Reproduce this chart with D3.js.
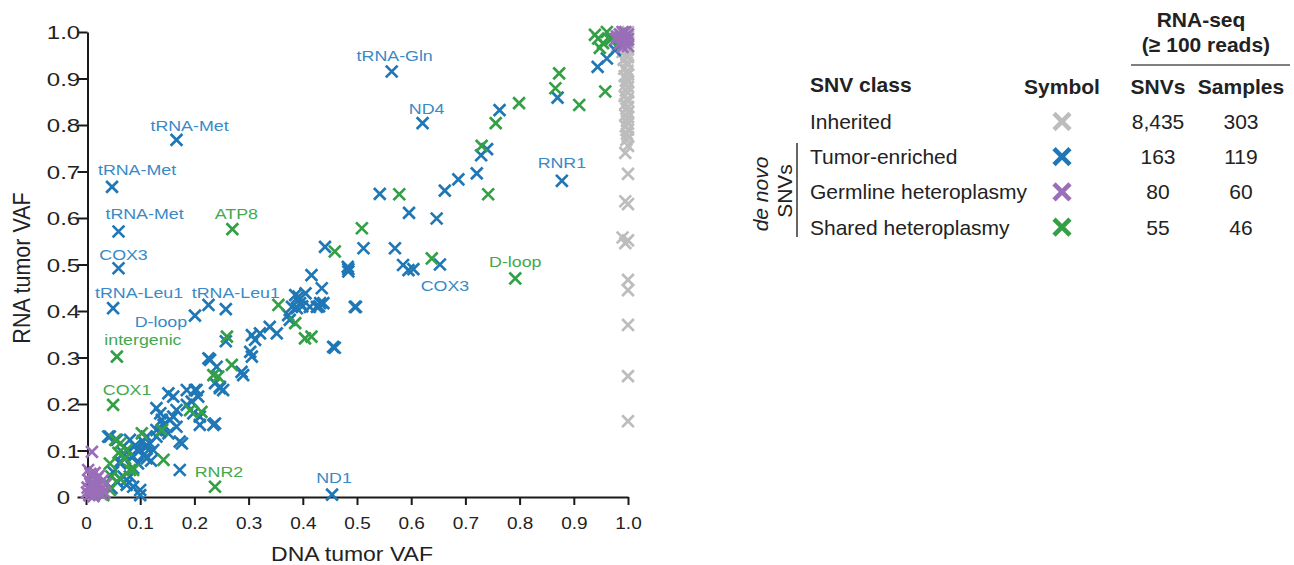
<!DOCTYPE html>
<html>
<head>
<meta charset="utf-8">
<script src="https://cdn.jsdelivr.net/npm/d3@7"></script>
<style>
  body { margin: 0; background: #fff; }
  svg { font-family: "Liberation Sans", Arial, sans-serif; }
</style>
</head>
<body>
<svg id="chart" width="1294" height="565"></svg>
<script>
// ---------------- data ----------------
const xTicks = [0, 0.1, 0.2, 0.3, 0.4, 0.5, 0.6, 0.7, 0.8, 0.9, 1.0];
const yTicks = [0, 0.1, 0.2, 0.3, 0.4, 0.5, 0.6, 0.7, 0.8, 0.9, 1.0];

const classNames = ["Inherited", "Tumor-enriched", "Germline heteroplasmy", "Shared heteroplasmy"];
const snvCounts = ["8,435", "163", "80", "55"];
const sampleCounts = ["303", "119", "60", "46"];

// [DNA tumor VAF, RNA tumor VAF]
const inherited = [
  [1.0, 1.0], [0.995, 0.997], [0.99, 0.995], [0.985, 0.99], [0.975, 0.995], [0.97, 0.985],
  [1.0, 0.99], [0.995, 0.985], [1.0, 0.978], [0.99, 0.975], [0.98, 0.97], [0.995, 0.968],
  [1.0, 0.962], [0.99, 0.957], [0.997, 0.951], [1.0, 0.946], [0.992, 0.94], [0.998, 0.934],
  [1.0, 0.929], [0.993, 0.921], [0.999, 0.917], [1.0, 0.909], [0.994, 0.905], [0.998, 0.898],
  [1.0, 0.893], [0.995, 0.886], [1.0, 0.882], [0.996, 0.874], [1.0, 0.87], [0.994, 0.862],
  [0.999, 0.857], [1.0, 0.851], [0.995, 0.845], [1.0, 0.839], [0.997, 0.835], [1.0, 0.827],
  [0.995, 0.821], [1.0, 0.817], [0.998, 0.809], [1.0, 0.803], [0.996, 0.797], [1.0, 0.79],
  [0.998, 0.781], [1.0, 0.774], [0.997, 0.768],
  [1.0, 0.755], [0.995, 0.74], [1.0, 0.695], [0.995, 0.636], [1.0, 0.63], [0.99, 0.558],
  [1.0, 0.552], [0.995, 0.546], [1.0, 0.467], [1.0, 0.445], [1.0, 0.37], [1.0, 0.26], [1.0, 0.163]
];

const tumorEnriched = [
  [0.763, 0.832], [0.729, 0.735], [0.74, 0.748], [0.721, 0.696], [0.687, 0.683], [0.662, 0.659],
  [0.542, 0.652], [0.596, 0.611], [0.647, 0.599], [0.512, 0.535], [0.57, 0.535], [0.441, 0.538],
  [0.483, 0.495], [0.484, 0.485], [0.585, 0.499], [0.595, 0.488], [0.87, 0.859], [0.944, 0.925],
  [0.961, 0.943], [0.985, 0.976], [0.976, 0.961], [0.994, 0.983], [0.97, 0.987],
  [0.416, 0.477], [0.435, 0.449], [0.496, 0.409], [0.456, 0.323], [0.386, 0.434], [0.395, 0.417],
  [0.38, 0.409], [0.413, 0.409], [0.438, 0.417], [0.426, 0.409], [0.376, 0.381], [0.339, 0.366],
  [0.352, 0.352], [0.321, 0.352], [0.306, 0.348], [0.312, 0.338], [0.303, 0.312], [0.306, 0.302],
  [0.287, 0.269], [0.29, 0.262], [0.226, 0.298], [0.241, 0.28], [0.247, 0.237], [0.253, 0.23],
  [0.226, 0.413], [0.186, 0.23], [0.204, 0.23], [0.161, 0.216], [0.373, 0.391], [0.392, 0.431],
  [0.389, 0.406], [0.432, 0.417], [0.152, 0.223], [0.195, 0.205], [0.21, 0.173], [0.238, 0.158],
  [0.177, 0.115], [0.173, 0.058], [0.161, 0.173], [0.14, 0.166], [0.137, 0.18], [0.13, 0.144],
  [0.112, 0.13], [0.1, 0.101], [0.087, 0.087], [0.1, 0.004], [0.087, 0.022], [0.075, 0.037],
  [0.063, 0.072], [0.044, 0.13], [0.081, 0.123], [0.112, 0.108], [0.13, 0.191], [0.167, 0.187],
  [0.186, 0.198], [0.198, 0.18], [0.167, 0.151], [0.155, 0.166], [0.173, 0.119], [0.13, 0.13],
  [0.124, 0.101], [0.118, 0.115], [0.106, 0.09], [0.096, 0.072], [0.087, 0.062], [0.081, 0.044],
  [0.075, 0.026], [0.1, 0.015], [0.041, 0.13], [0.057, 0.123], [0.069, 0.094], [0.063, 0.076],
  [0.05, 0.054], [0.057, 0.033], [0.047, 0.019], [0.069, 0.044], [0.084, 0.087], [0.094, 0.101],
  [0.109, 0.108], [0.112, 0.083], [0.143, 0.155], [0.137, 0.14], [0.152, 0.137], [0.229, 0.295],
  [0.238, 0.245], [0.258, 0.335], [0.201, 0.23], [0.207, 0.216], [0.21, 0.155], [0.235, 0.155],
  [0.247, 0.234], [0.405, 0.438], [0.399, 0.41], [0.43, 0.41], [0.484, 0.49], [0.498, 0.409],
  [0.459, 0.321], [0.604, 0.49], [0.09, 0.11], [0.078, 0.1], [0.12, 0.078], [0.105, 0.12]
];

const germline = [
  [0.011, 0.097],
  [0.004, 0.058], [0.01, 0.045], [0.016, 0.052], [0.006, 0.035], [0.013, 0.03], [0.02, 0.04],
  [0.025, 0.028], [0.003, 0.02], [0.009, 0.015], [0.015, 0.018], [0.022, 0.012], [0.03, 0.02],
  [0.028, 0.006], [0.006, 0.004], [0.014, 0.002], [0.019, 0.025], [0.034, 0.01], [0.002, 0.01],
  [0.024, 0.046], [0.011, 0.024], [0.017, 0.008], [0.031, 0.036], [0.008, 0.05], [0.036, 0.028],
  [0.99, 1.0], [0.995, 0.99], [0.985, 0.995], [1.0, 0.985], [0.99, 0.98], [0.98, 0.99],
  [0.995, 1.0], [1.0, 0.995], [0.985, 0.975], [0.995, 0.975], [0.99, 0.968], [1.0, 0.97],
  [0.978, 0.985], [0.988, 0.988], [0.998, 0.982]
];

const shared = [
  [0.873, 0.911], [0.866, 0.879], [0.799, 0.847], [0.91, 0.843], [0.958, 0.872], [0.756, 0.804],
  [0.73, 0.755], [0.742, 0.651], [0.578, 0.651], [0.509, 0.578], [0.459, 0.528], [0.638, 0.513],
  [0.945, 0.986], [0.961, 1.0], [0.954, 0.976], [0.939, 0.994], [0.967, 0.983], [0.948, 0.966],
  [0.355, 0.413], [0.386, 0.374], [0.404, 0.341], [0.416, 0.345], [0.26, 0.345], [0.269, 0.284],
  [0.235, 0.262], [0.244, 0.259], [0.192, 0.187], [0.213, 0.183], [0.14, 0.144], [0.143, 0.08],
  [0.103, 0.137], [0.075, 0.101], [0.054, 0.123], [0.044, 0.072], [0.038, 0.029], [0.032, 0.004],
  [0.087, 0.058], [0.063, 0.115], [0.081, 0.058], [0.047, 0.044], [0.044, 0.015], [0.063, 0.04],
  [0.06, 0.095], [0.072, 0.083]
];

// labelled SNVs: gene, class index, DNA VAF, RNA VAF
const annotations = [
  ["tRNA-Gln", 1, 0.564, 0.915], ["ND4", 1, 0.621, 0.804], ["tRNA-Met", 1, 0.167, 0.768],
  ["tRNA-Met", 1, 0.048, 0.667], ["tRNA-Met", 1, 0.06, 0.571], ["COX3", 1, 0.06, 0.492],
  ["tRNA-Leu1", 1, 0.05, 0.406], ["tRNA-Leu1", 1, 0.258, 0.404], ["D-loop", 1, 0.201, 0.39],
  ["RNR1", 1, 0.878, 0.68], ["COX3", 1, 0.653, 0.5], ["ND1", 1, 0.454, 0.005],
  ["ATP8", 3, 0.27, 0.576], ["intergenic", 3, 0.057, 0.302], ["COX1", 3, 0.05, 0.198],
  ["RNR2", 3, 0.238, 0.022], ["D-loop", 3, 0.792, 0.47]
];

// ---------------- setup ----------------
const svg = d3.select("#chart");
const colors = ["#bdbdbd", "#1f77b6", "#9a6eb8", "#34a046"];
const labelColors = ["#aaa", "#3a8ac6", "#9a6eb8", "#42a94d"];
const sx = 1.15; // the plot panel is a bit wider than tall in the figure

const x = d3.scaleLinear().domain([0, 1]).range([86, 628]);
const y = d3.scaleLinear().domain([0, 1]).range([497, 32]);

const timesType = d3.symbolTimes || d3.symbolX;
const mark = d3.symbol().type(timesType).size(92);
const bigMark = d3.symbol().type(timesType).size(169);

const fmt = d => d === 0 ? "0" : d3.format(".1f")(d);

//======================= AXES =========================
const gx = svg.append("g")
  .attr("transform", "translate(0," + y(0) + ")")
  .call(d3.axisBottom(x).tickValues(xTicks).tickSize(8).tickSizeOuter(0).tickFormat(fmt));
gx.selectAll(".tick text")
  .attr("y", null).attr("dy", null)
  .attr("font-size", 16.5)
  .attr("transform", "translate(0,31.5) scale(" + sx + ",1)");

const gy = svg.append("g")
  .attr("transform", "translate(87.5,0)")
  .call(d3.axisLeft(y).tickValues(yTicks).tickSize(10).tickSizeOuter(0).tickFormat(fmt));
gy.selectAll(".tick text")
  .attr("x", null).attr("dy", "0.36em")
  .attr("text-anchor", "middle")
  .attr("font-size", 18.5)
  .attr("transform", "translate(-24,0) scale(1.3,1)");

svg.selectAll(".domain, .tick line").attr("stroke", "#1a1a1a").attr("stroke-width", 2);
svg.selectAll(".tick text").attr("fill", "#222").attr("font-family", null);

svg.append("text")
  .attr("transform", "translate(352,561) scale(" + sx + ",1)")
  .attr("text-anchor", "middle").attr("font-size", 20).attr("fill", "#222")
  .text("DNA tumor VAF");

svg.append("text")
  .attr("transform", "translate(30,268) scale(" + sx + ",1) rotate(-90)")
  .attr("text-anchor", "middle").attr("font-size", 21.5).attr("fill", "#222")
  .text("RNA tumor VAF");

//======================= POINTS =========================
const series = [inherited, tumorEnriched, germline, shared].map((pts, i) => ({
  cls: i,
  values: pts.concat(annotations.filter(a => a[1] === i).map(a => [a[2], a[3]]))
}));
const drawOrder = [0, 1, 3, 2]; // gray first, purple on top

drawOrder.forEach(function(ci) {
  svg.append("g").selectAll("path")
    .data(series[ci].values)
    .enter().append("path")
      .attr("d", mark)
      .attr("transform", d => "translate(" + x(d[0]) + "," + y(d[1]) + ")")
      .attr("fill", "none")
      .attr("stroke", colors[ci])
      .attr("stroke-width", 2.7);
});

// label offsets from their point, in pixels (dx, dy of text baseline centre)
const labelOffsets = [
  [3, -11], [4, -9], [13, -9], [25, -12], [26, -12], [5, -8], [26, -10], [10, -11], [-34, 11],
  [0, -13], [5, 26], [2, -12], [4, -10], [26, -12], [14, -10], [4, -10], [0, -11]
];

svg.append("g").selectAll("text")
  .data(annotations)
  .enter().append("text")
    .attr("transform", (d, i) => "translate(" + (x(d[2]) + labelOffsets[i][0]) + "," +
      (y(d[3]) + labelOffsets[i][1]) + ") scale(" + sx + ",1)")
    .attr("text-anchor", "middle")
    .attr("font-size", 15.5)
    .attr("fill", d => labelColors[d[1]])
    .text(d => d[0]);

//======================= LEGEND TABLE =========================
const tbl = svg.append("g").attr("font-size", 21).attr("fill", "#222");
const colClass = 810, colSym = 1062, colSnv = 1158, colSmp = 1241;
const rowY = i => 121.5 + i * 35.2;

tbl.append("text").attr("x", 1201).attr("y", 27).attr("text-anchor", "middle")
  .attr("font-weight", "bold").text("RNA-seq");
tbl.append("text").attr("x", 1206).attr("y", 52).attr("text-anchor", "middle")
  .attr("font-weight", "bold").text("(\u2265 100 reads)");
tbl.append("line").attr("x1", 1131).attr("x2", 1290).attr("y1", 65).attr("y2", 65)
  .attr("stroke", "#555").attr("stroke-width", 1.5);

tbl.append("text").attr("x", colClass).attr("y", 92).attr("font-weight", "bold").text("SNV class");
[["Symbol", colSym], ["SNVs", colSnv], ["Samples", colSmp]].forEach(function(h) {
  tbl.append("text").attr("x", h[1]).attr("y", 94).attr("text-anchor", "middle")
    .attr("font-weight", "bold").text(h[0]);
});

const rows = tbl.selectAll(".row")
  .data(classNames)
  .enter().append("g")
    .attr("class", "row")
    .attr("transform", (d, i) => "translate(0," + rowY(i) + ")");

rows.append("text").attr("x", colClass).attr("dy", "0.36em").text(d => d);
rows.append("path")
  .attr("d", bigMark)
  .attr("transform", "translate(" + colSym + ",0)")
  .attr("fill", "none")
  .attr("stroke", (d, i) => colors[i])
  .attr("stroke-width", 4.6);
rows.append("text").attr("x", colSnv).attr("dy", "0.36em").attr("text-anchor", "middle")
  .text((d, i) => snvCounts[i]);
rows.append("text").attr("x", colSmp).attr("dy", "0.36em").attr("text-anchor", "middle")
  .text((d, i) => sampleCounts[i]);

tbl.append("line").attr("x1", 797).attr("x2", 797).attr("y1", 143).attr("y2", 237)
  .attr("stroke", "#333").attr("stroke-width", 1.5);
tbl.append("text")
  .attr("transform", "translate(768,194) rotate(-90)")
  .attr("text-anchor", "middle").attr("font-style", "italic").text("de novo");
tbl.append("text")
  .attr("transform", "translate(792,191) rotate(-90)")
  .attr("text-anchor", "middle").text("SNVs");
</script>
</body>
</html>
